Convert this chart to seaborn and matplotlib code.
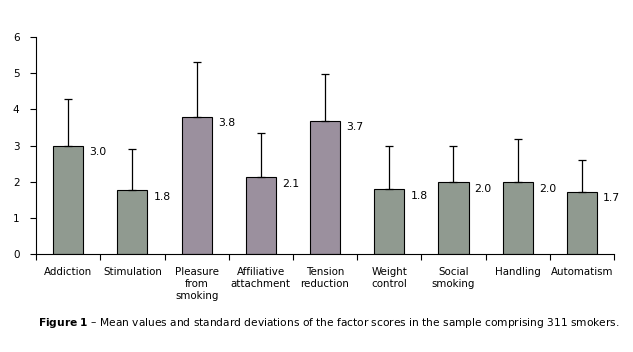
import numpy as np
import pandas as pd
import seaborn as sns
import matplotlib.pyplot as plt

# Data
# ==============================================================================
factors = ['Addiction', 'Stimulation', 'Pleasure\nfrom\nsmoking', 'Affiliative\nattachment',
           'Tension\nreduction', 'Weight\ncontrol', 'Social\nsmoking', 'Handling', 'Automatism']
means = [3.0, 1.76, 3.78, 2.12, 3.68, 1.79, 1.98, 1.98, 1.71]
sds = [1.28, 1.14, 1.52, 1.23, 1.30, 1.21, 1.02, 1.20, 0.88]
tones = ['g', 'g', 'p', 'p', 'p', 'g', 'g', 'g', 'g']

df = pd.DataFrame({'factor': factors, 'mean': means, 'sd': sds, 'tone': tones})

# Graph
# ==============================================================================
sns.set_style('white')
plt.rcParams['font.family'] = ['DejaVu Sans']
plt.rcParams.update({'text.color': 'black', 'xtick.color': 'black', 'ytick.color': 'black'})

colors = {'g': '#8e9c8e', 'p': '#9c8ea0'}

fig = plt.figure(figsize=(6.33, 3.52), dpi=100)
ax = fig.add_axes([0.057, 0.278, 0.913, 0.617])

sns.barplot(data=df, x='factor', y='mean', hue='factor',
            palette=[colors[t] for t in df['tone']], legend=False,
            width=0.47, edgecolor='black', linewidth=0.8, ax=ax)

# Upper error bars only
pos = np.arange(len(df))
ax.errorbar(pos, df['mean'], yerr=[np.zeros(len(df)), df['sd']], fmt='none',
            ecolor='black', elinewidth=0.9, capsize=3, capthick=0.9)

# Value labels
for x, m in zip(pos, df['mean']):
    ax.text(x + 0.33, m - 0.17, f'{m:.1f}', fontsize=7.8, ha='left', va='center')

# Axes
ax.set_xlim(-0.5, len(df) - 0.5)
ax.set_ylim(0, 6)
ax.set_yticks(range(0, 7))
ax.set_xticks(pos)
ax.set_xticklabels(df['factor'], fontsize=7.4, linespacing=1.25)
ax.set_xticks(np.arange(-0.5, len(df)), minor=True)
ax.tick_params(axis='x', which='major', length=0, pad=9)
ax.tick_params(axis='x', which='minor', length=4, width=0.8, direction='out', color='black', bottom=True)
ax.tick_params(axis='y', length=4, width=0.8, direction='out', color='black', left=True, labelsize=7.5, pad=8)
ax.set_xlabel('')
ax.set_ylabel('')
for side in ['top', 'right']:
    ax.spines[side].set_visible(False)
for side in ['left', 'bottom']:
    ax.spines[side].set_color('black')
    ax.spines[side].set_linewidth(0.8)

# Caption
fig.text(0.06, 0.083, r'$\bf{Figure\ 1}$ – Mean values and standard deviations of the factor scores in the sample comprising 311 smokers.',
         fontsize=7.7, ha='left', va='center')

fig.savefig('out.png', dpi=100)
